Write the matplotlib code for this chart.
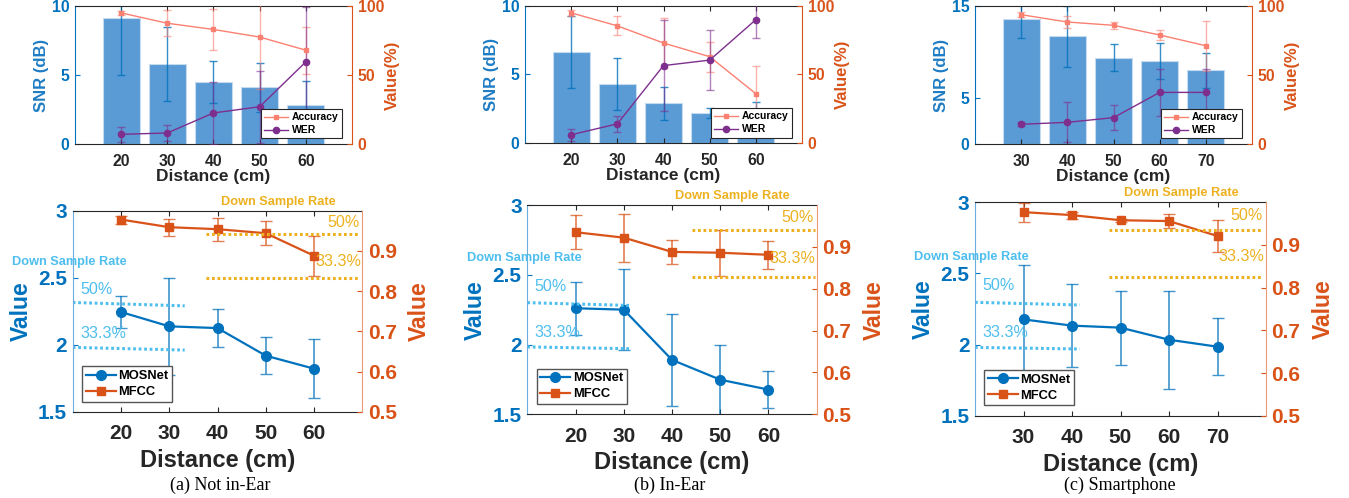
import matplotlib
matplotlib.use('Agg')
import matplotlib.pyplot as plt

plt.rcParams['font.family'] = ['Liberation Sans', 'DejaVu Sans']
plt.rcParams['font.weight'] = 'bold'

# ---- top row: SNR bars + Accuracy / WER
dist_a = [20, 30, 40, 50, 60]
dist_b = [20, 30, 40, 50, 60]
dist_c = [30, 40, 50, 60, 70]

snr_a = [9.1, 5.8, 4.5, 4.1, 2.85]
snr_err_a = [4.1, 2.7, 1.55, 1.75, 1.7]
acc_a = [95, 87.5, 83, 77.5, 68]
acc_err_a = [1.2, 9.5, 15, 37.5, 17]
wer_a = [7, 8, 22.5, 27, 59.5]
wer_err_a = [5.5, 5.5, 22.5, 26, 40]

snr_b = [6.65, 4.3, 2.9, 2.2, 2.0]
snr_err_b = [2.65, 1.9, 1.2, 0.35, 1.0]
acc_b = [95, 85.5, 73, 63, 36]
acc_err_b = [2, 7, 18, 11, 20]
wer_b = [6, 14, 56.5, 60.5, 90]
wer_err_b = [4.5, 6, 33, 22, 13]

snr_c = [13.6, 11.7, 9.4, 9.0, 8.0]
snr_err_c = [2.1, 3.3, 1.5, 1.95, 1.9]
acc_c = [93.7, 88.4, 86, 79, 71.2]
acc_err_c = [2, 4, 2.5, 3.5, 18]
wer_c = [14.3, 15.7, 19.1, 37.4, 37.4]
wer_err_c = [1.5, 14.5, 9, 17, 17]

# ---- bottom row: MOSNet / MFCC
mos_a = [2.244, 2.137, 2.124, 1.918, 1.821]
mos_err_a = [0.12, 0.36, 0.14, 0.14, 0.22]
mfcc_a = [0.978, 0.959, 0.954, 0.944, 0.888]
mfcc_err_a = [0.01, 0.021, 0.029, 0.03, 0.05]

mos_b = [2.26, 2.25, 1.89, 1.748, 1.677]
mos_err_b = [0.19, 0.29, 0.33, 0.25, 0.13]
mfcc_b = [0.935, 0.922, 0.888, 0.886, 0.881]
mfcc_err_b = [0.04, 0.057, 0.028, 0.055, 0.034]

mos_c = [2.177, 2.133, 2.119, 2.034, 1.985]
mos_err_c = [0.38, 0.29, 0.26, 0.345, 0.2]
mfcc_c = [0.977, 0.970, 0.958, 0.956, 0.921]
mfcc_err_c = [0.022, 0.008, 0.003, 0.017, 0.038]

# down sample rate reference lines (levels and x extents)
mos_rate50 = [(2.315, 2.29), (2.30, 2.28), (2.297, 2.278)]
mos_rate33 = [(1.98, 1.96), (1.983, 1.97), (1.98, 1.969)]
mos_rate_end = [33.2, 31.3, 41.6]
mfcc_rate50 = [0.942, 0.941, 0.934]
mfcc_rate33 = [0.833, 0.827, 0.824]
mfcc_rate_start = [37.7, 44.1, 47.6]
mfcc_rate_end = [69.5, 69.6, 79.0]

captions = ['(a) Not in-Ear', '(b) In-Ear', '(c) Smartphone']

BLUE = '#0072BD'
ORANGE = '#D95319'
BAR = '#5B9BD5'
SALMON = '#FA8072'
PURPLE = '#7E2F8E'
LBLUE = '#4DBEEE'
YELLOW = '#EDB120'
DARK = '#262626'

W, H = 1349, 498
fig = plt.figure(figsize=(W / 100, H / 100), dpi=100)


def rect(x0, y0, x1, y1):
    return [x0 / W, 1 - y1 / H, (x1 - x0) / W, (y1 - y0) / H]


def style_axes(ax, ax2, lcol, rcol, lspine, rspine, size, pad):
    for s in ['top', 'bottom']:
        ax.spines[s].set_color(DARK)
        ax2.spines[s].set_visible(False)
    ax.spines['left'].set_color(lspine)
    ax.spines['right'].set_visible(False)
    ax2.spines['left'].set_visible(False)
    ax2.spines['right'].set_color(rspine)
    ax.tick_params(axis='x', direction='in', top=True, length=3.5, colors=DARK,
                   labelsize=size, pad=pad)
    ax.tick_params(axis='y', direction='in', length=3.5, colors=lcol, labelsize=size, pad=4)
    ax2.tick_params(axis='y', direction='in', length=3.5, colors=rcol, labelsize=size, pad=4)
    for lab in ax.get_xticklabels() + ax.get_yticklabels() + ax2.get_yticklabels():
        lab.set_fontweight('bold')


top_boxes = [(75, 6, 352, 144), (525, 6, 802, 143), (975, 6, 1252, 144)]
tops = [
    (dist_a, snr_a, snr_err_a, acc_a, acc_err_a, wer_a, wer_err_a, 10, [0, 5, 10]),
    (dist_b, snr_b, snr_err_b, acc_b, acc_err_b, wer_b, wer_err_b, 10, [0, 5, 10]),
    (dist_c, snr_c, snr_err_c, acc_c, acc_err_c, wer_c, wer_err_c, 15, [0, 5, 15]),
]

for box, (d, snr, snr_e, acc, acc_e, wer, wer_e, ymax, yt) in zip(top_boxes, tops):
    ax = fig.add_axes(rect(*box))
    ax.bar(d, snr, width=8, color=BAR, edgecolor='#c6dbef', linewidth=0.8, zorder=1)
    ax.errorbar(d, snr, yerr=snr_e, fmt='none', ecolor=BLUE, elinewidth=1,
                capsize=3, alpha=0.8, zorder=2)
    ax.set_xlim(d[0] - 10, d[-1] + 10)
    ax.set_ylim(0, ymax)
    ax.set_xticks(d)
    ax.set_yticks(yt)
    ax.set_xlabel('Distance (cm)', fontsize=12.5, fontweight='bold', color=DARK, labelpad=0)
    ax.set_ylabel('SNR (dB)', fontsize=12, fontweight='bold', color='#1f7cc4', labelpad=2)

    ax2 = ax.twinx()
    ax2.errorbar(d, acc, yerr=acc_e, fmt='none', ecolor=SALMON, elinewidth=1,
                 capsize=3, alpha=0.6)
    ax2.errorbar(d, wer, yerr=wer_e, fmt='none', ecolor=PURPLE, elinewidth=1,
                 capsize=3, alpha=0.6)
    h1, = ax2.plot(d, acc, color=SALMON, lw=1, marker='s', ms=3.5, label='Accuracy')
    h2, = ax2.plot(d, wer, color=PURPLE, lw=1, marker='o', ms=4.5, label='WER')
    ax2.set_ylim(0, 100)
    ax2.set_yticks([0, 50, 100])
    ax2.set_ylabel('Value(%)', fontsize=12, fontweight='bold', color=ORANGE, labelpad=1)
    style_axes(ax, ax2, BLUE, ORANGE, BLUE, ORANGE, 11.3, 7)
    leg = ax2.legend(handles=[h1, h2], loc='lower right', bbox_to_anchor=(0.964, 0.04),
                     prop={'size': 7.5, 'weight': 'bold'}, fancybox=False,
                     edgecolor=DARK, framealpha=1, borderpad=0.3, labelspacing=0.3,
                     handlelength=2.3, handletextpad=0.4, borderaxespad=0)
    leg.get_frame().set_linewidth(0.8)

bot_boxes = [(72.7, 210.7, 362.3, 411.7), (527.3, 205, 816.7, 414.3), (975, 202.3, 1266, 415.7)]
bots = [
    (dist_a, mos_a, mos_err_a, mfcc_a, mfcc_err_a),
    (dist_b, mos_b, mos_err_b, mfcc_b, mfcc_err_b),
    (dist_c, mos_c, mos_err_c, mfcc_c, mfcc_err_c),
]
cap_x = [220, 670, 1119.5]

for i, (box, (d, mos, mos_e, mf, mf_e)) in enumerate(zip(bot_boxes, bots)):
    ax = fig.add_axes(rect(*box))
    x0, x1 = d[0] - 10, d[-1] + 10
    ax.errorbar(d, mos, yerr=mos_e, fmt='none', ecolor=BLUE, elinewidth=1.2,
                capsize=4, alpha=0.75)
    h1, = ax.plot(d, mos, color=BLUE, lw=1.6, marker='o', ms=7, label='MOSNet')
    ax.plot([x0, mos_rate_end[i]], mos_rate50[i], color=LBLUE, lw=2.2,
            linestyle=(0, (0.9, 0.9)))
    ax.plot([x0, mos_rate_end[i]], mos_rate33[i], color=LBLUE, lw=2.2,
            linestyle=(0, (0.9, 0.9)))
    ax.set_xlim(x0, x1)
    ax.set_ylim(1.5, 3)
    ax.set_xticks(d)
    ax.set_yticks([1.5, 2, 2.5, 3])
    ax.set_yticklabels(['1.5', '2', '2.5', '3'])
    ax.set_xlabel('Distance (cm)', fontsize=17, fontweight='bold', color=DARK, labelpad=4)
    ax.set_ylabel('Value', fontsize=16.5, fontweight='bold', color=BLUE, labelpad=4)

    ax2 = ax.twinx()
    ax2.errorbar(d, mf, yerr=mf_e, fmt='none', ecolor=ORANGE, elinewidth=1.2,
                 capsize=4, alpha=0.75)
    h2, = ax2.plot(d, mf, color=ORANGE, lw=1.6, marker='s', ms=6, label='MFCC')
    ax2.plot([mfcc_rate_start[i], mfcc_rate_end[i]], [mfcc_rate50[i]] * 2, color=YELLOW,
             lw=2.2, linestyle=(0, (0.9, 0.9)))
    ax2.plot([mfcc_rate_start[i], mfcc_rate_end[i]], [mfcc_rate33[i]] * 2, color=YELLOW,
             lw=2.2, linestyle=(0, (0.9, 0.9)))
    ax2.set_ylim(0.5, 1.0)
    ax2.set_yticks([0.5, 0.6, 0.7, 0.8, 0.9])
    ax2.set_ylabel('Value', fontsize=16.5, fontweight='bold', color=ORANGE, labelpad=8)
    style_axes(ax, ax2, BLUE, ORANGE, '#6aaee0', '#ec9a74', 15, 9)

    # down sample rate annotations
    ax.text(-0.21, 0.745, 'Down Sample Rate', transform=ax.transAxes, color=LBLUE,
            fontsize=9.2, fontweight='bold', ha='left', va='center')
    ax.text(0.025, 0.61, '50%', transform=ax.transAxes, color=LBLUE,
            fontsize=11.6, fontweight='normal', ha='left', va='center')
    ax.text(0.025, 0.39, '33.3%', transform=ax.transAxes, color=LBLUE,
            fontsize=11.6, fontweight='normal', ha='left', va='center')
    ax.text(0.71, 1.045, 'Down Sample Rate', transform=ax.transAxes, color=YELLOW,
            fontsize=9.2, fontweight='bold', ha='center', va='center')
    ax2.text(0.99, 0.94, '50%', transform=ax.transAxes, color=YELLOW,
             fontsize=11.6, fontweight='normal', ha='right', va='center')
    ax2.text(0.995, 0.745, '33.3%', transform=ax.transAxes, color=YELLOW,
             fontsize=11.6, fontweight='normal', ha='right', va='center')

    leg = ax2.legend(handles=[h1, h2], loc='lower left', bbox_to_anchor=(0.032, 0.048),
                     prop={'size': 9.3, 'weight': 'bold'}, fancybox=False,
                     edgecolor='#555555', framealpha=1, borderpad=0.3, labelspacing=0.3,
                     handlelength=2.3, handletextpad=0.2, borderaxespad=0)
    leg.get_frame().set_linewidth(1)

    fig.text(cap_x[i] / W, 1 - 485 / H, captions[i], family=['Liberation Serif'],
             fontsize=13, fontweight='normal', ha='center', va='center')

fig.savefig('out.png', dpi=100)
